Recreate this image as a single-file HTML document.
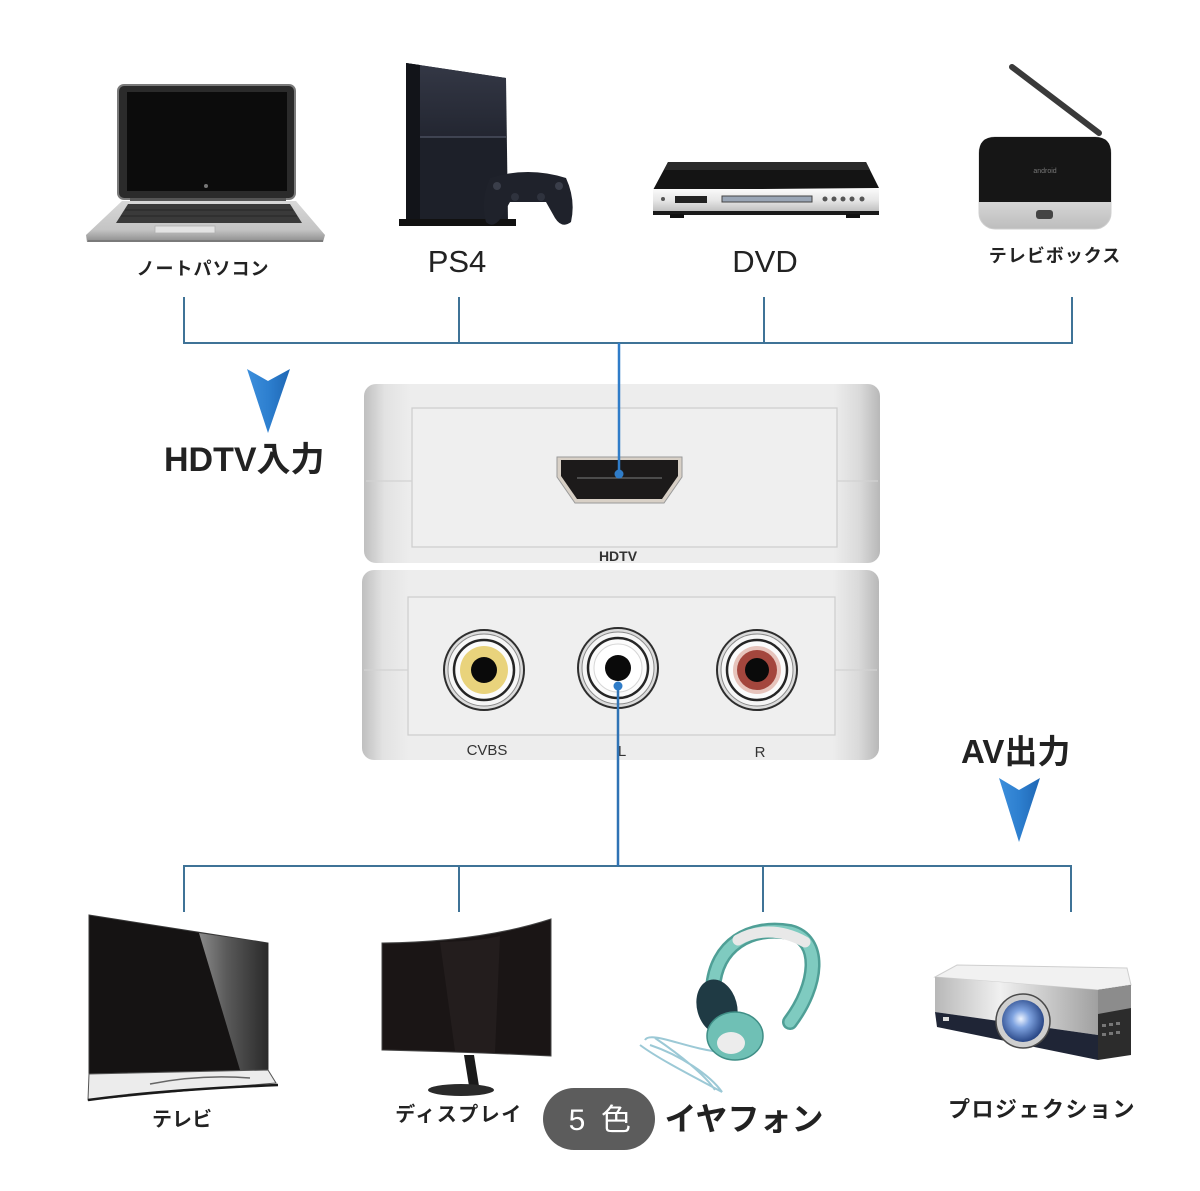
<!DOCTYPE html>
<html>
<head>
<meta charset="utf-8">
<style>
html,body{margin:0;padding:0;background:#fff;}
svg{display:block;}
.jp{font-family:"Liberation Sans","Noto Sans CJK JP",sans-serif;font-weight:bold;fill:#222;}
.en{font-family:"Liberation Sans",sans-serif;fill:#222;}
</style>
</head>
<body>
<svg width="1200" height="1191" viewBox="0 0 1200 1191" xmlns="http://www.w3.org/2000/svg">
<defs>
  <linearGradient id="boxg" x1="0" y1="0" x2="1" y2="0">
    <stop offset="0" stop-color="#bfbfbf"/>
    <stop offset="0.04" stop-color="#e2e2e2"/>
    <stop offset="0.09" stop-color="#ededed"/>
    <stop offset="0.91" stop-color="#ededed"/>
    <stop offset="0.96" stop-color="#dadada"/>
    <stop offset="1" stop-color="#b8b8b8"/>
  </linearGradient>
  <linearGradient id="lapbase" x1="0" y1="0" x2="0" y2="1">
    <stop offset="0" stop-color="#d8d8d8"/>
    <stop offset="0.7" stop-color="#c4c4c4"/>
    <stop offset="1" stop-color="#8c8c8c"/>
  </linearGradient>
  <linearGradient id="silver" x1="0" y1="0" x2="0" y2="1">
    <stop offset="0" stop-color="#fafafa"/>
    <stop offset="0.5" stop-color="#e6e6e6"/>
    <stop offset="1" stop-color="#bdbdbd"/>
  </linearGradient>
  <linearGradient id="silverH" x1="0" y1="0" x2="1" y2="0">
    <stop offset="0" stop-color="#b8b8b8"/>
    <stop offset="0.4" stop-color="#f0f0f0"/>
    <stop offset="1" stop-color="#a0a0a0"/>
  </linearGradient>
  <linearGradient id="tvrefl" x1="0" y1="0" x2="1" y2="0">
    <stop offset="0" stop-color="#8a8a8a"/>
    <stop offset="0.4" stop-color="#5a5a5a"/>
    <stop offset="1" stop-color="#2a2a2a"/>
  </linearGradient>
  <linearGradient id="arrowg" x1="0" y1="0" x2="1" y2="0">
    <stop offset="0" stop-color="#3d8fdc"/>
    <stop offset="0.5" stop-color="#2d7fcf"/>
    <stop offset="1" stop-color="#1f67b4"/>
  </linearGradient>
  <radialGradient id="lens" cx="0.45" cy="0.45" r="0.6">
    <stop offset="0" stop-color="#eef4ff"/>
    <stop offset="0.35" stop-color="#7fa3e0"/>
    <stop offset="1" stop-color="#1d3a7a"/>
  </radialGradient>
  <linearGradient id="ps4top" x1="0" y1="0" x2="0" y2="1">
    <stop offset="0" stop-color="#343846"/>
    <stop offset="1" stop-color="#232631"/>
  </linearGradient>
</defs>

<!-- ===== connectors top ===== -->
<g stroke="#3f7397" stroke-width="2" fill="none">
  <polyline points="184,297 184,343 1072,343 1072,297"/>
  <line x1="459" y1="297" x2="459" y2="343"/>
  <line x1="764" y1="297" x2="764" y2="343"/>
</g>
<!-- ===== connectors bottom ===== -->
<g stroke="#3f7397" stroke-width="2" fill="none">
  <polyline points="184,912 184,866 1071,866 1071,912"/>
  <line x1="459" y1="866" x2="459" y2="912"/>
  <line x1="763" y1="866" x2="763" y2="912"/>
</g>

<!-- ===== Laptop ===== -->
<g>
  <rect x="118" y="85" width="177" height="114" rx="6" fill="#2b2b2b" stroke="#7a7a7a" stroke-width="2"/>
  <rect x="127" y="92" width="160" height="99" fill="#0c0c0c"/>
  <circle cx="206" cy="186" r="2" fill="#777"/>
  <rect x="130" y="198" width="156" height="4" fill="#555"/>
  <polygon points="122,201 296,201 325,235 323,242 87,242 86,235" fill="url(#lapbase)"/>
  <polygon points="128,204 290,204 302,223 116,223" fill="#3a3a3a"/>
  <g stroke="#222" stroke-width="0.8">
    <line x1="125" y1="210" x2="293" y2="210"/>
    <line x1="121" y1="216" x2="297" y2="216"/>
  </g>
  <rect x="155" y="226" width="60" height="7" fill="#e3e3e3" stroke="#b0b0b0" stroke-width="0.8"/>
  <line x1="88" y1="241" x2="323" y2="241" stroke="#7a7a7a" stroke-width="2"/>
</g>
<text class="jp" x="203" y="275" font-size="18" text-anchor="middle" letter-spacing="1">ノートパソコン</text>

<!-- ===== PS4 ===== -->
<g>
  <polygon points="406,63 506,78 508,222 406,222" fill="#1d2029"/>
  <polygon points="406,63 506,78 506,137 406,137" fill="url(#ps4top)"/>
  <polygon points="406,63 420,65 420,222 406,222" fill="#121419"/>
  <line x1="420" y1="137" x2="506" y2="137" stroke="#4a4f5e" stroke-width="1.5"/>
  <rect x="399" y="219" width="117" height="7" fill="#111"/>
  <path d="M490,178 Q528,166 566,178 Q576,200 571,222 Q562,229 555,218 L546,202 L510,202 L501,218 Q493,229 486,222 Q480,200 490,178Z" fill="#1f222b"/>
  <circle cx="497" cy="186" r="4" fill="#3a3e4a"/>
  <circle cx="559" cy="186" r="4" fill="#3a3e4a"/>
  <circle cx="515" cy="197" r="4" fill="#2f333e"/>
  <circle cx="541" cy="197" r="4" fill="#2f333e"/>
</g>
<text class="en" x="457" y="272" font-size="31" text-anchor="middle">PS4</text>

<!-- ===== DVD ===== -->
<g>
  <polygon points="668,162 866,162 879,188 653,190" fill="#141414"/>
  <polygon points="668,162 866,162 870,170 664,170" fill="#2a2a2a"/>
  <rect x="653" y="189" width="226" height="23" fill="url(#silver)"/>
  <rect x="675" y="196" width="32" height="7" fill="#222"/>
  <rect x="722" y="196" width="90" height="6" fill="#9aa6b6" stroke="#444" stroke-width="1"/>
  <g fill="#555">
    <circle cx="825" cy="199" r="2.5"/><circle cx="834" cy="199" r="2.5"/>
    <circle cx="843" cy="199" r="2.5"/><circle cx="852" cy="199" r="2.5"/>
    <circle cx="862" cy="199" r="2.5"/><circle cx="663" cy="199" r="2"/>
  </g>
  <rect x="653" y="211" width="226" height="4" fill="#1a1a1a"/>
  <rect x="670" y="214" width="14" height="4" fill="#111"/>
  <rect x="846" y="214" width="14" height="4" fill="#111"/>
</g>
<text class="en" x="765" y="272" font-size="31" text-anchor="middle">DVD</text>

<!-- ===== TV Box ===== -->
<g>
  <line x1="1012" y1="67" x2="1099" y2="133" stroke="#3a3a3a" stroke-width="6" stroke-linecap="round"/>
  <rect x="979" y="137" width="132" height="92" rx="16" fill="url(#silver)" stroke="#cfcfcf" stroke-width="1"/>
  <path d="M979,202 V153 Q979,137 995,137 H1095 Q1111,137 1111,153 V202 Z" fill="#161616"/>
  <text x="1045" y="173" font-family="Liberation Sans,sans-serif" font-size="7" fill="#777" text-anchor="middle">android</text>
  <rect x="1036" y="210" width="17" height="9" rx="3" fill="#444"/>
</g>
<text class="jp" x="1055" y="262" font-size="18" text-anchor="middle" letter-spacing="1">テレビボックス</text>

<!-- ===== arrows & side labels ===== -->
<path d="M247,369 L268,381 L290,369 L268,433 Z" fill="url(#arrowg)"/>
<text class="jp" x="164" y="471" font-size="34" fill="#2a2a2a">HDTV入力</text>
<text class="jp" x="961" y="763" font-size="33" fill="#2a2a2a">AV出力</text>
<path d="M999,778 L1019,790 L1040,778 L1019,842 Z" fill="url(#arrowg)"/>

<!-- ===== Converter top box ===== -->
<g>
  <rect x="364" y="384" width="516" height="179" rx="12" fill="url(#boxg)"/>
  <rect x="412" y="408" width="425" height="139" fill="#efefef" stroke="#cdcdcd" stroke-width="1.2"/>
  <line x1="366" y1="481" x2="412" y2="481" stroke="#d2d2d2" stroke-width="1.2"/>
  <line x1="837" y1="481" x2="878" y2="481" stroke="#d2d2d2" stroke-width="1.2"/>
  <path d="M557,457 H682 V477 L664,503 H575 L557,477 Z" fill="#d8d0c6" stroke="#9a9a9a" stroke-width="1"/>
  <path d="M561,460 H678 V476 L662,499 H577 L561,476 Z" fill="#1c1a1a"/>
  <line x1="577" y1="478" x2="662" y2="478" stroke="#6a6a6a" stroke-width="1.2"/>
  <text x="618" y="561" font-family="Liberation Sans,sans-serif" font-size="14" font-weight="bold" fill="#333" text-anchor="middle">HDTV</text>
</g>

<!-- ===== Converter bottom box ===== -->
<g>
  <rect x="362" y="570" width="517" height="190" rx="12" fill="url(#boxg)"/>
  <rect x="408" y="597" width="427" height="138" fill="#efefef" stroke="#cdcdcd" stroke-width="1.2"/>
  <line x1="364" y1="670" x2="408" y2="670" stroke="#d2d2d2" stroke-width="1.2"/>
  <line x1="835" y1="670" x2="877" y2="670" stroke="#d2d2d2" stroke-width="1.2"/>
  <g transform="translate(484,670)">
    <circle r="40" fill="#dcdcdc" stroke="#2e2e2e" stroke-width="2"/>
    <circle r="36" fill="#f6f6f6" stroke="#8a8a8a" stroke-width="1"/>
    <circle r="30" fill="#fbfbfb" stroke="#262626" stroke-width="2.5"/>
    <circle r="24" fill="#e9d37c"/>
    <circle r="13" fill="#0a0a0a"/>
  </g>
  <g transform="translate(618,668)">
    <circle r="40" fill="#dcdcdc" stroke="#2e2e2e" stroke-width="2"/>
    <circle r="36" fill="#f6f6f6" stroke="#8a8a8a" stroke-width="1"/>
    <circle r="30" fill="#fbfbfb" stroke="#262626" stroke-width="2.5"/>
    <circle r="24" fill="#ffffff" stroke="#d6d6d6" stroke-width="1"/>
    <circle r="13" fill="#0a0a0a"/>
  </g>
  <g transform="translate(757,670)">
    <circle r="40" fill="#dcdcdc" stroke="#2e2e2e" stroke-width="2"/>
    <circle r="36" fill="#f6f6f6" stroke="#8a8a8a" stroke-width="1"/>
    <circle r="30" fill="#fbfbfb" stroke="#262626" stroke-width="2.5"/>
    <circle r="24" fill="#e7c4bc"/>
    <circle r="20" fill="#a4463d"/>
    <circle r="12" fill="#0a0a0a"/>
  </g>
  <text x="487" y="755" font-family="Liberation Sans,sans-serif" font-size="15" fill="#333" text-anchor="middle">CVBS</text>
  <text x="622" y="756" font-family="Liberation Sans,sans-serif" font-size="15" fill="#333" text-anchor="middle">L</text>
  <text x="760" y="757" font-family="Liberation Sans,sans-serif" font-size="15" fill="#333" text-anchor="middle">R</text>
</g>

<!-- blue signal lines -->
<line x1="619" y1="343" x2="619" y2="474" stroke="#2f7cc8" stroke-width="2.5"/>
<circle cx="619" cy="474" r="4.5" fill="#2f7cc8"/>
<line x1="618" y1="686" x2="618" y2="866" stroke="#2f73b5" stroke-width="2.5"/>
<circle cx="618" cy="686" r="4.5" fill="#2f7cc8"/>

<!-- ===== TV ===== -->
<g>
  <polygon points="89,915 268,943 268,1070 89,1074" fill="#151313" stroke="#3a3a3a" stroke-width="1"/>
  <polygon points="199,933 268,943 268,1070 240,1070" fill="url(#tvrefl)"/>
  <polygon points="89,1074 268,1070 276,1083 240,1086 150,1094 88,1100" fill="#ececec" stroke="#555" stroke-width="1"/>
  <path d="M88,1100 Q160,1090 278,1085" stroke="#1a1a1a" stroke-width="2.5" fill="none"/>
  <path d="M150,1084 Q200,1074 250,1078" stroke="#666" stroke-width="1.5" fill="none"/>
</g>
<text class="jp" x="182" y="1126" font-size="20" text-anchor="middle">テレビ</text>

<!-- ===== Monitor ===== -->
<g>
  <path d="M382,943 Q480,942 551,919 L551,1056 Q470,1052 382,1050 Z" fill="#1a1515" stroke="#444" stroke-width="1"/>
  <path d="M440,942 Q480,941 500,936 L495,1053 L455,1051 Z" fill="#231d1d"/>
  <polygon points="464,1055 474,1055 479,1086 469,1086" fill="#1a1a1a"/>
  <ellipse cx="461" cy="1090" rx="33" ry="6" fill="#2a2a2a"/>
</g>
<text class="jp" x="459" y="1121" font-size="20" text-anchor="middle" letter-spacing="1.5">ディスプレイ</text>

<!-- ===== Headphones ===== -->
<g>
  <path d="M645,1040 C650,1030 690,1050 722,1052 M640,1045 C660,1060 700,1080 722,1092 C710,1075 680,1055 650,1045 M655,1038 C680,1055 705,1075 715,1090" stroke="#9cc9d6" stroke-width="2" fill="none"/>
  <path d="M713,988 C716,945 750,925 790,932 C822,940 818,985 790,1022" stroke="#4f9f96" stroke-width="16" fill="none" stroke-linecap="round"/>
  <path d="M713,988 C716,945 750,925 790,932 C822,940 818,985 790,1022" stroke="#7fcbc0" stroke-width="11" fill="none" stroke-linecap="round"/>
  <path d="M738,940 C755,930 780,928 805,942" stroke="#e8e8e8" stroke-width="11" fill="none" stroke-linecap="round"/>
  <ellipse cx="717" cy="1007" rx="20" ry="28" fill="#1f3a44" transform="rotate(-15 717 1007)"/>
  <ellipse cx="735" cy="1036" rx="28" ry="24" fill="#6fc0b5" stroke="#3f8e86" stroke-width="1.5"/>
  <ellipse cx="731" cy="1043" rx="14" ry="11" fill="#ececec"/>
</g>

<!-- 5色 badge -->
<rect x="543" y="1088" width="112" height="62" rx="31" fill="#5c5c5c"/>
<text x="577" y="1130" font-family="Liberation Sans,'Noto Sans CJK JP',sans-serif" font-size="30" fill="#fff" text-anchor="middle">5</text>
<text x="616" y="1130" font-family="Liberation Sans,'Noto Sans CJK JP',sans-serif" font-size="30" fill="#fff" text-anchor="middle">色</text>
<text class="jp" x="744" y="1130" font-size="32" text-anchor="middle" fill="#111">イヤフォン</text>

<!-- ===== Projector ===== -->
<g>
  <polygon points="935,977 957,965 1127,968 1131,985 1098,990" fill="#f1f1f1" stroke="#cfcfcf" stroke-width="1"/>
  <polygon points="935,977 1098,990 1098,1035 935,1012" fill="url(#silverH)"/>
  <polygon points="935,1012 1098,1035 1098,1060 937,1027" fill="#1f2536"/>
  <polygon points="1098,990 1131,985 1131,1055 1098,1060" fill="#2c2c2c"/>
  <polygon points="1098,990 1131,985 1131,1008 1098,1014" fill="#8c8c8c"/>
  <circle cx="1023" cy="1021" r="27" fill="#cfcfcf" stroke="#4a4a4a" stroke-width="1.5"/>
  <circle cx="1023" cy="1021" r="21" fill="url(#lens)"/>
  <g fill="#777">
    <rect x="1102" y="1024" width="4" height="3"/><rect x="1109" y="1023" width="4" height="3"/>
    <rect x="1116" y="1022" width="4" height="3"/><rect x="1102" y="1033" width="4" height="3"/>
    <rect x="1109" y="1032" width="4" height="3"/><rect x="1116" y="1031" width="4" height="3"/>
  </g>
  <rect x="943" y="1017" width="6" height="4" fill="#ddd"/>
</g>
<text class="jp" x="1042" y="1117" font-size="22" text-anchor="middle" letter-spacing="1.5">プロジェクション</text>

</svg>
</body>
</html>
